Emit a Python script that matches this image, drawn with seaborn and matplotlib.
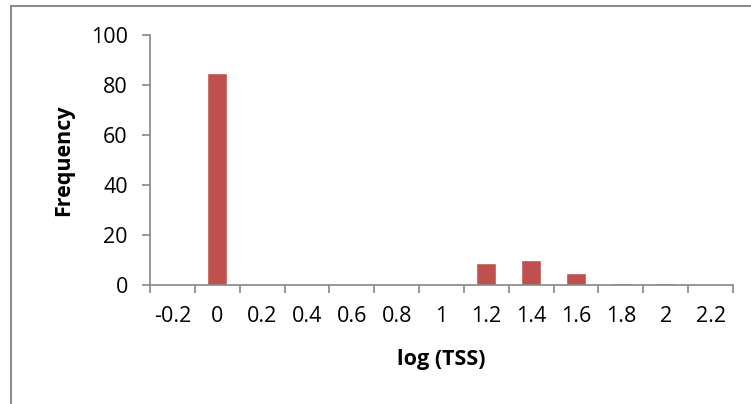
import pandas as pd
import numpy as np
import matplotlib.pyplot as plt
import seaborn as sns
from matplotlib.lines import Line2D

# ==========================================
# DATA
# ==========================================

bins = ["-0.2", "0", "0.2", "0.4", "0.6", "0.8", "1",
        "1.2", "1.4", "1.6", "1.8", "2", "2.2"]
freq = [0, 85, 0, 0, 0, 0, 0, 9, 10, 5, 1, 1, 0]

df = pd.DataFrame({"bin": bins, "Frequency": freq})

# ==========================================
# STYLE
# ==========================================

sns.set_style("white")
plt.rcParams["font.family"] = ["Open Sans", "DejaVu Sans"]
plt.rcParams["text.color"] = "black"
plt.rcParams["axes.labelcolor"] = "black"
plt.rcParams["xtick.labelcolor"] = "black"
plt.rcParams["ytick.labelcolor"] = "black"

axis_grey = "#868686"
bar_red = "#C0504D"
fs = 15.5

fig = plt.figure(figsize=(7.51, 4.04), dpi=100)
ax = fig.add_axes([150 / 751, 119 / 404, 583 / 751, 250 / 404])

sns.barplot(
    data=df,
    x="bin",
    y="Frequency",
    color=bar_red,
    width=0.45,
    saturation=1,
    ax=ax
)

# ==========================================
# AXES
# ==========================================

ax.set_xlim(-0.5, len(bins) - 0.5)
ax.set_ylim(0, 100)
ax.set_yticks(np.arange(0, 101, 20))

ax.set_xticks(range(len(bins)))
ax.set_xticklabels(bins)
ax.set_xticks(np.arange(-0.5, len(bins), 1), minor=True)

ax.tick_params(axis="x", which="major", bottom=True, length=0,
               pad=15, labelsize=fs, labelcolor="black")
ax.tick_params(axis="x", which="minor", bottom=True, length=6, width=1.2,
               color=axis_grey, direction="out")
ax.tick_params(axis="y", left=True, length=6, width=1.2, color=axis_grey,
               pad=10, labelsize=fs, direction="out", labelcolor="black")

for side in ["top", "right"]:
    ax.spines[side].set_visible(False)
for side in ["left", "bottom"]:
    ax.spines[side].set_color(axis_grey)
    ax.spines[side].set_linewidth(1.2)

ax.set_xlabel("log (TSS)", fontsize=fs, fontweight="bold",
              labelpad=16, color="black")
ax.set_ylabel("Frequency", fontsize=fs, fontweight="bold",
              labelpad=12, color="black")

# outer chart frame
fig.add_artist(Line2D([10.5 / 751, 10.5 / 751], [0, 1 - 5.5 / 404],
                      transform=fig.transFigure, color="#8c8c8c", lw=1.5))
fig.add_artist(Line2D([10.5 / 751, 1], [1 - 5.5 / 404, 1 - 5.5 / 404],
                      transform=fig.transFigure, color="#8c8c8c", lw=1.5))

plt.savefig("out.png", dpi=100)
